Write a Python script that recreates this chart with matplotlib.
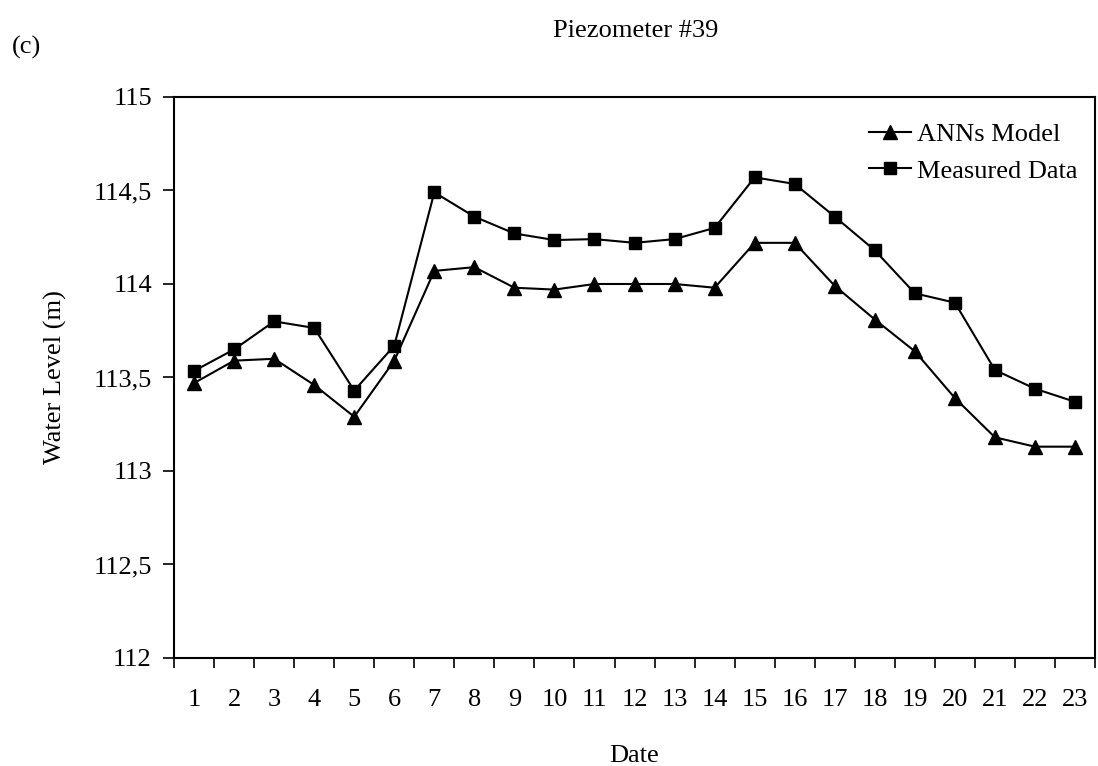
import matplotlib
matplotlib.use("Agg")
import matplotlib.pyplot as plt
from matplotlib.ticker import FixedLocator, FuncFormatter

plt.rcParams['font.family'] = ['Liberation Serif', 'DejaVu Serif']

dates = list(range(1, 24))
ann_model = [113.47, 113.59, 113.60, 113.46, 113.29, 113.59, 114.07, 114.09,
             113.98, 113.97, 114.00, 114.00, 114.00, 113.98, 114.22, 114.22,
             113.99, 113.81, 113.64, 113.39, 113.18, 113.13, 113.13]
measured = [113.535, 113.65, 113.80, 113.765, 113.43, 113.67, 114.49, 114.36,
            114.27, 114.235, 114.24, 114.22, 114.24, 114.30, 114.57, 114.535,
            114.36, 114.18, 113.95, 113.90, 113.54, 113.44, 113.37]
yticks = [112, 112.5, 113, 113.5, 114, 114.5, 115]

fs = 19
fig = plt.figure(figsize=(10.98, 7.66), dpi=100)
ax = fig.add_axes([0.1585, 0.141, 0.9973 - 0.1585, 0.8734 - 0.141])

ax.plot(dates, ann_model, color='black', lw=1.5, marker='^', ms=10, label='ANNs Model')
ax.plot(dates, measured, color='black', lw=1.5, marker='s', ms=9, label='Measured Data')

ax.set_xlim(0.5, 23.5)
ax.set_ylim(112, 115)
ax.xaxis.set_major_locator(FixedLocator(dates))
ax.xaxis.set_minor_locator(FixedLocator([d + 0.5 for d in [0] + dates]))
ax.tick_params(axis='x', which='major', length=0, pad=22, labelsize=fs)
ax.tick_params(axis='x', which='minor', length=7, width=1.2, direction='out')
ax.set_yticks(yticks)
ax.yaxis.set_major_formatter(FuncFormatter(lambda v, p: (('%g' % v).replace('.', ','))))
ax.tick_params(axis='y', length=8, width=1.2, direction='out', pad=8, labelsize=fs)
for s in ax.spines.values():
    s.set_linewidth(1.5)

ax.set_ylabel('Water Level (m)', fontsize=fs, labelpad=19)
ax.set_xlabel('Date', fontsize=fs, labelpad=25)
fig.text(0.579, 0.959, 'Piezometer #39', ha='center', va='center', fontsize=fs)
fig.text(0.011, 0.938, '(c)', ha='left', va='center', fontsize=fs)

leg = ax.legend(loc='upper right', frameon=False, fontsize=fs, handlelength=1.6,
                handletextpad=0.23, labelspacing=0.5, borderaxespad=0.4,
                bbox_to_anchor=(1.004, 0.992))

fig.savefig('out.png', dpi=100)
